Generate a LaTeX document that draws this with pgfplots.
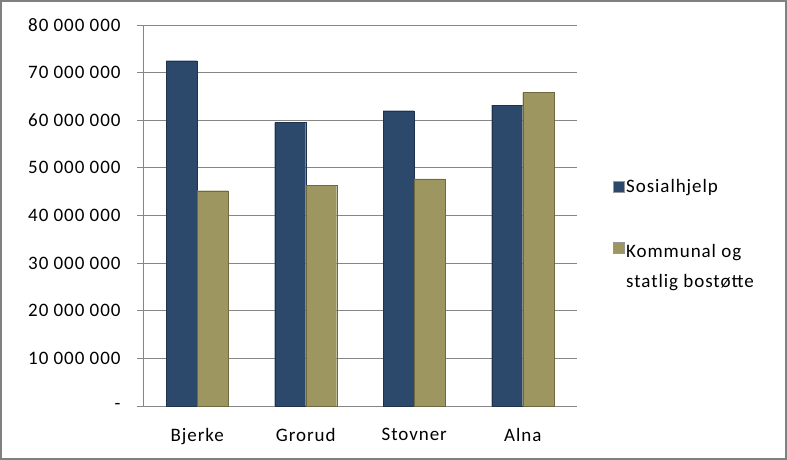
\documentclass[border=0pt]{standalone}
\usepackage{pgfplots}
\pgfplotsset{compat=1.18}
\usepackage{fontspec}
\setmainfont{Carlito}[LetterSpace=5]
\definecolor{sbar}{RGB}{44,72,106}
\definecolor{sedge}{RGB}{30,50,78}
\definecolor{gbar}{RGB}{157,150,96}
\definecolor{gedge}{RGB}{110,105,62}
\definecolor{gridc}{RGB}{134,134,134}
\definecolor{framec}{RGB}{128,128,128}
\begin{document}
\begin{tikzpicture}
\begin{axis}[
  name=ax,
  scale only axis,
  width=434pt, height=381pt,
  xmin=-0.5, xmax=3.5,
  ymin=0, ymax=80000000,
  scaled y ticks=false,
  ybar=0pt,
  bar width=31pt,
  axis lines*=left,
  axis line style={gridc, line width=0.8pt},
  tick align=outside,
  major tick length=6pt,
  minor tick length=6pt,
  xtick={0,1,2,3},
  xticklabels={Bjerke,Grorud,Stovner,Alna},
  minor xtick={-0.5,0.5,1.5,2.5,3.5},
  xtick style={draw=none},
  minor x tick style={gridc, line width=0.8pt},
  ytick={0,10000000,20000000,30000000,40000000,50000000,60000000,70000000,80000000},
  yticklabels={-\hspace{0.55em},10 000 000,20 000 000,30 000 000,40 000 000,50 000 000,60 000 000,70 000 000,80 000 000},
  y tick style={gridc, line width=0.8pt},
  ymajorgrids,
  grid style={gridc, line width=0.9pt},
  tick label style={font=\fontsize{19}{22}\selectfont},
  yticklabel style={xshift=-13pt},
  xticklabel style={yshift=-13pt},
  clip=false,
  legend style={draw=none, fill=none, at={(1.075,0.49)}, anchor=west,
    font=\fontsize{19}{27}\selectfont, row sep=40pt},
  legend cell align=left,
  legend image code/.code={\draw[#1, draw=black!40] (0cm,-5pt) rectangle (11pt,6pt);},
]
\addplot[fill=sbar, draw=sedge] coordinates {(0,72500000) (1,59500000) (2,62000000) (3,63200000)};
\addlegendentry{Sosialhjelp}
\addplot[fill=gbar, draw=gedge] coordinates {(0,45200000) (1,46300000) (2,47700000) (3,65800000)};
\addlegendentry{\begin{tabular}[t]{@{}l@{}}Kommunal og\\[3pt]statlig bostøtte\end{tabular}}
\end{axis}
\draw[framec, line width=2pt] ([shift={(-142pt,-53pt)}]ax.south west) rectangle ([shift={(209pt,24pt)}]ax.north east);
\end{tikzpicture}
\end{document}
